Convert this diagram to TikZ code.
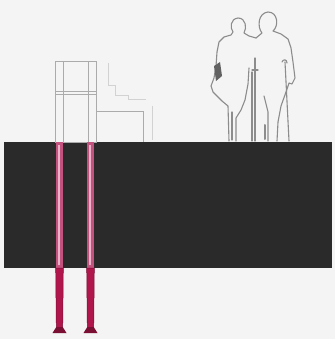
\documentclass[tikz,border=0pt]{standalone}
\begin{document}
\definecolor{paper}{HTML}{F4F4F4}
\definecolor{slab}{HTML}{2A2A2B}
\definecolor{outline}{HTML}{8C8C8C}
\definecolor{frameline}{HTML}{ABABAB}
\definecolor{faint}{HTML}{D2D2D2}
\definecolor{poleinner}{HTML}{C4527E}
\definecolor{polelight}{HTML}{E9B3C8}
\definecolor{poledeep}{HTML}{B0164C}
\definecolor{poleedge}{HTML}{7A0E33}
\begin{tikzpicture}[x=1pt,y=-1pt,
  person/.style={draw=outline,line width=1.1pt,line join=round,line cap=round},
  standline/.style={draw=frameline,line width=1pt},
  staircase/.style={draw=faint,line width=1pt},
  polebelow/.style={fill=poledeep,draw=poleedge,line width=0.5pt},
  poleabove/.style={fill=poleinner},
  polestripe/.style={fill=polelight}]
% page
\fill[paper] (0,0) rectangle (335,339);
\useasboundingbox (0,0) rectangle (335,339);

% ground slab
\fill[slab] (4,142) rectangle (332,268);

% frame standing on the slab
\draw[standline] (55,62) rectangle (96,142);
\draw[standline] (63,62) -- (63,142);
\draw[standline] (88,62) -- (88,142);
\draw[standline] (55,92) -- (96,92);
\draw[standline] (55,95) -- (96,95);
% low box beside the frame
\draw[standline] (96,112) -- (143,112) -- (143,142);
% faint stepped outline behind the box
\draw[staircase] (108,63) -- (108,86) -- (115,86) -- (115,96) -- (128,96) -- (128,100) -- (146,100);
\draw[staircase] (152,106) -- (152,140);

% two posts through the slab
\foreach \cx in {59.5,90.5}{
  \fill[poleabove] (\cx-3.8,142) rectangle (\cx+3.8,268);
  \fill[polestripe] (\cx-1.6,145) rectangle (\cx+0.6,265);
  \filldraw[polebelow] (\cx-3.8,268) -- (\cx+3.8,268) -- (\cx+3.2,328) -- (\cx-3.2,328) -- cycle;
  \fill[poleedge] (\cx-3.2,327) -- (\cx+3.2,327) -- (\cx+7,333) -- (\cx-7,333) -- cycle;
}

% left figure
\draw[person] (229,141) -- (228,106) -- (222,101) -- (218,97) -- (213,92) -- (211,86)
  -- (214,78) -- (216,66) -- (217,52) -- (219,42) -- (224,37) -- (231,35) -- (233,32)
  .. controls (230,28) and (230,19) .. (238,18)
  .. controls (246,18) and (247,28) .. (244,33)
  -- (249,36) -- (256,38);
\draw[person] (236,141) -- (236,118) -- (241,110) -- (245,100) -- (248,84) -- (249,68);
\draw[person] (232,112) -- (232,140);
\fill[outline!70!black] (214,66) -- (220,62) -- (222,76) -- (216,81) -- cycle;
% crutch
\draw[person] (255,58) -- (255,141);
\draw[person] (252,70) -- (258,70);
\draw[person,line width=2pt] (265,125) -- (265,139);

% right figure
\draw[person] (256,38) -- (262,33)
  .. controls (257,27) and (258,13) .. (268,12)
  .. controls (278,12) and (279,26) .. (273,31)
  -- (281,34) -- (288,39) -- (291,48) -- (293,62) -- (295,78) -- (292,84) -- (289,83)
  -- (286,92) -- (281,106) -- (278,122) -- (277,141);
\draw[person] (252,72) -- (252,141);
\draw[person] (268,141) -- (268,112) -- (264,96);
% cane
\draw[person] (285,62) -- (289,141);
\draw[person] (282,62) .. controls (283,59) and (287,59) .. (287,63);
\end{tikzpicture}
\end{document}
